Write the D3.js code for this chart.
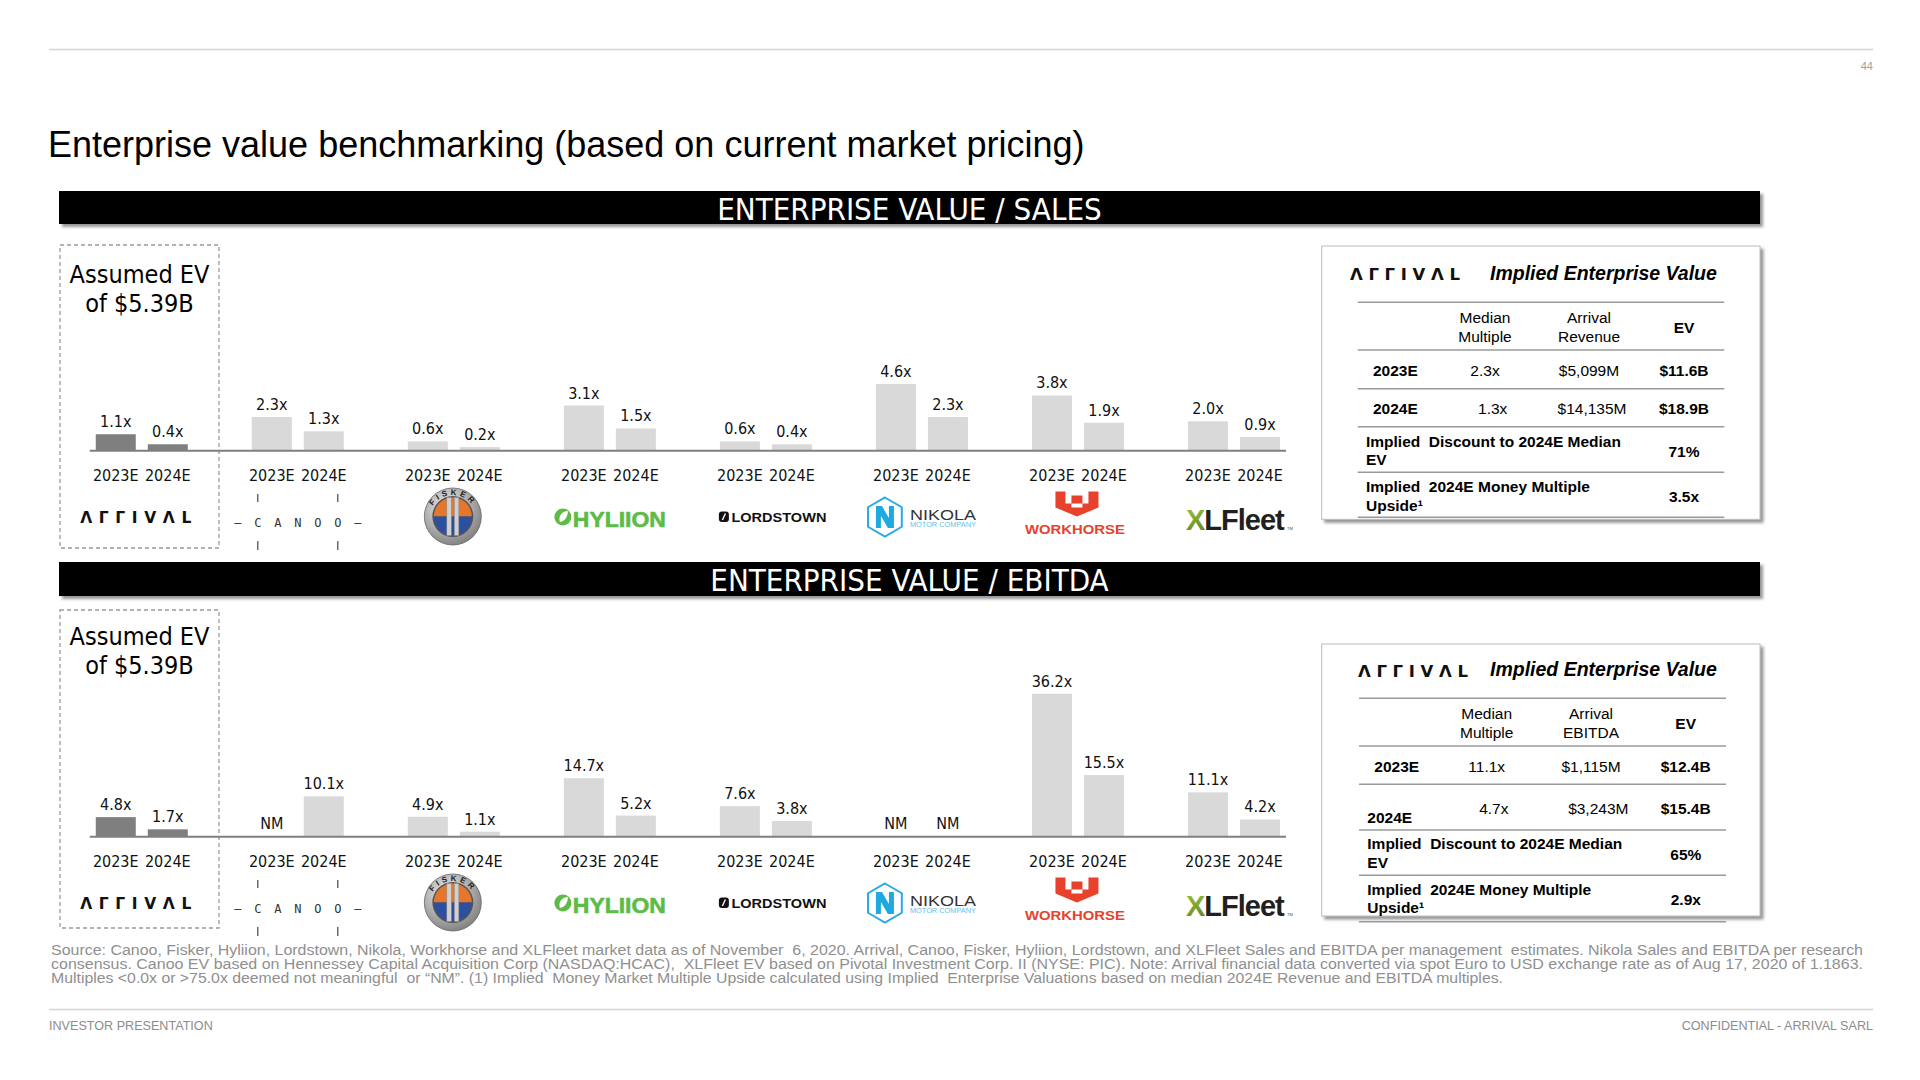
<!DOCTYPE html>
<html><head><meta charset="utf-8">
<script src="https://cdn.jsdelivr.net/npm/d3@7"></script>
<style>
html,body{margin:0;padding:0;background:#fff;}
svg{display:block;}
text{white-space:pre;}
.cond{font-family:'DejaVu Sans Condensed','DejaVu Sans',sans-serif;font-stretch:condensed;}
.arial{font-family:'Liberation Sans',Arial,sans-serif;}
</style></head>
<body>
<svg id="chart" width="1920" height="1080"></svg>
<script>
// ---------------- DATA ----------------
const companies = ["Arrival","Canoo","Fisker","Hyliion","Lordstown","Nikola","Workhorse","XLFleet"];
const years = ["2023E","2024E"];
const evSales2023 = [1.1, 2.3, 0.6, 3.1, 0.6, 4.6, 3.8, 2.0];
const evSales2024 = [0.4, 1.3, 0.2, 1.5, 0.4, 2.3, 1.9, 0.9];
const evEbitda2023 = [4.8, null, 4.9, 14.7, 7.6, null, 36.2, 11.1];
const evEbitda2024 = [1.7, 10.1, 1.1, 5.2, 3.8, null, 15.5, 4.2];
const assumedEV = ["Assumed EV", "of $5.39B"];
const panelTitles = ["ENTERPRISE VALUE / SALES", "ENTERPRISE VALUE / EBITDA"];

const salesHeader = [["Median","Multiple"],["Arrival","Revenue"],["EV"]];
const salesRows = [["2023E","2.3x","$5,099M","$11.6B"],["2024E","1.3x","$14,135M","$18.9B"]];
const salesSummary = [[["Implied  Discount to 2024E Median","EV"],"71%"],[["Implied  2024E Money Multiple","Upside\u00B9"],"3.5x"]];
const ebitdaHeader = [["Median","Multiple"],["Arrival","EBITDA"],["EV"]];
const ebitdaRows = [["2023E","11.1x","$1,115M","$12.4B"],["2024E","4.7x","$3,243M","$15.4B"]];
const ebitdaSummary = [[["Implied  Discount to 2024E Median","EV"],"65%"],[["Implied  2024E Money Multiple","Upside\u00B9"],"2.9x"]];

const pageTitle = "Enterprise value benchmarking (based on current market pricing)";
const sourceLines = [
 "Source: Canoo, Fisker, Hyliion, Lordstown, Nikola, Workhorse and XLFleet market data as of November  6, 2020. Arrival, Canoo, Fisker, Hyliion, Lordstown, and XLFleet Sales and EBITDA per management  estimates. Nikola Sales and EBITDA per research",
 "consensus. Canoo EV based on Hennessey Capital Acquisition Corp (NASDAQ:HCAC),  XLFleet EV based on Pivotal Investment Corp. II (NYSE: PIC). Note: Arrival financial data converted via spot Euro to USD exchange rate as of Aug 17, 2020 of 1.1863.",
 "Multiples <0.0x or >75.0x deemed not meaningful  or \u201CNM\u201D. (1) Implied  Money Market Multiple Upside calculated using Implied  Enterprise Valuations based on median 2024E Revenue and EBITDA multiples."
];
const footerLeft = "INVESTOR PRESENTATION";
const footerRight = "CONFIDENTIAL - ARRIVAL SARL";
const pageNumber = "44";

// ---------------- DRAW ----------------
const svg = d3.select("#chart");
const defs = svg.append("defs");
const sh = defs.append("filter").attr("id","shadow").attr("x","-5%").attr("y","-20%").attr("width","110%").attr("height","150%");
sh.append("feDropShadow").attr("dx",3).attr("dy",3).attr("stdDeviation",1.5).attr("flood-color","#7a7a7a").attr("flood-opacity",0.8);
const silver = defs.append("radialGradient").attr("id","silver").attr("cx","40%").attr("cy","35%").attr("r","70%");
silver.append("stop").attr("offset","0%").attr("stop-color","#f2f2f2");
silver.append("stop").attr("offset","100%").attr("stop-color","#7d7d7d");
const xlg = defs.append("linearGradient").attr("id","xlgrad").attr("x1","0").attr("y1","0").attr("x2","1").attr("y2","1");
xlg.append("stop").attr("offset","0%").attr("stop-color","#9ccb3b");
xlg.append("stop").attr("offset","50%").attr("stop-color","#6a8a2a");
xlg.append("stop").attr("offset","55%").attr("stop-color","#f26a21");
xlg.append("stop").attr("offset","100%").attr("stop-color","#e8412c");

// ---------- logos ----------
function arrivalLogo(g, cx, base, size, width){
  g.append("text").attr("x",cx).attr("y",base).attr("text-anchor","middle")
    .attr("font-family","'DejaVu Sans',sans-serif").attr("font-weight","bold").attr("font-size",size).attr("font-style","normal")
    .attr("textLength",width).attr("lengthAdjust","spacing").attr("fill","#111").text("\u039B\u0393\u0393I\u0056\u039BL");
}
const logos = {
  Arrival:(g,cx,ay)=>arrivalLogo(g,cx-6,ay+72.5,15.5,111),
  Canoo:(g,cx,ay)=>{
    const chars=["\u2013","C","A","N","O","O","\u2013"];
    chars.forEach((ch,k)=>{
      g.append("text").attr("x",cx+(k-3)*20).attr("y",ay+77).attr("text-anchor","middle")
        .attr("font-family","'DejaVu Sans Mono',monospace").attr("font-size",12).attr("fill","#333").text(ch);
    });
    [-40,40].forEach(dx=>{
      g.append("line").attr("x1",cx+dx).attr("x2",cx+dx).attr("y1",ay+44).attr("y2",ay+52).attr("stroke","#444").attr("stroke-width",1.2);
      g.append("line").attr("x1",cx+dx).attr("x2",cx+dx).attr("y1",ay+91).attr("y2",ay+100).attr("stroke","#444").attr("stroke-width",1.2);
    });
  },
  Fisker:(g,cx,ay)=>{
    const f = g.append("g").attr("transform",`translate(${cx-1},${ay+66.5})`);
    f.append("circle").attr("r",28.5).attr("fill","url(#silver)").attr("stroke","#666").attr("stroke-width",0.8);
    f.append("circle").attr("r",20.5).attr("fill","#555");
    f.append("path").attr("d","M-19,0 A19,19 0 0 1 19,0 Z").attr("fill","#e4772b");
    f.append("path").attr("d","M-19,0 A19,19 0 0 0 19,0 Z").attr("fill","#2d4f9f");
    f.append("rect").attr("x",-6).attr("y",-19).attr("width",4.5).attr("height",38).attr("fill","#d0d0d0").attr("stroke","#888").attr("stroke-width",0.5);
    f.append("rect").attr("x",1.5).attr("y",-19).attr("width",4.5).attr("height",38).attr("fill","#d0d0d0").attr("stroke","#888").attr("stroke-width",0.5);
    const id = "fa"+Math.round(ay);
    f.append("path").attr("id",id).attr("d","M-23.5,2 A23.5,23.5 0 0 1 23.5,2").attr("fill","none");
    f.append("text").attr("font-family","'Liberation Sans',sans-serif").attr("font-weight","bold").attr("font-size",8).attr("fill","#222")
      .append("textPath").attr("href","#"+id).attr("startOffset","50%").attr("text-anchor","middle").attr("letter-spacing",3).text("FISKER");
  },
  Hyliion:(g,cx,ay)=>{
    const hx=cx-47, hy=ay+67;
    g.append("circle").attr("cx",hx).attr("cy",hy).attr("r",8.5).attr("fill","#5dbb46");
    g.append("path").attr("d",`M${hx-3},${hy+5} C${hx-5},${hy-2} ${hx},${hy-6} ${hx+5},${hy-6} C${hx+5},${hy} ${hx+2},${hy+4} ${hx-3},${hy+5} Z`).attr("fill","#fff");
    g.append("text").attr("x",cx-37).attr("y",ay+76.5).attr("font-family","'Liberation Sans',sans-serif").attr("font-weight","bold")
      .attr("font-size",22).attr("textLength",93).attr("lengthAdjust","spacingAndGlyphs").attr("fill","#5dbb46")
      .attr("stroke","#5dbb46").attr("stroke-width",0.6).text("HYLIION");
  },
  Lordstown:(g,cx,ay)=>{
    g.append("rect").attr("x",cx-47).attr("y",ay+61.5).attr("width",10).attr("height",10.5).attr("rx",3).attr("fill","#111");
    g.append("line").attr("x1",cx-43.5).attr("x2",cx-40.5).attr("y1",ay+70).attr("y2",ay+63.5).attr("stroke","#fff").attr("stroke-width",1.4);
    g.append("text").attr("x",cx-34.5).attr("y",ay+71.5).attr("font-family","'Liberation Sans',sans-serif").attr("font-weight","bold")
      .attr("font-size",13).attr("textLength",95).attr("lengthAdjust","spacingAndGlyphs").attr("fill","#111").text("LORDSTOWN");
  },
  Nikola:(g,cx,ay)=>{
    const hx=cx-37, hy=ay+67, R=19.5;
    const pts=d3.range(6).map(k=>{const a=(-90+60*k)*Math.PI/180;return [hx+R*Math.cos(a),hy+R*Math.sin(a)];});
    g.append("polygon").attr("points",pts.map(p=>p.join(",")).join(" ")).attr("fill","#fff").attr("stroke","#29abe2").attr("stroke-width",2);
    g.append("path").attr("d",`M${hx-9},${hy+11} V${hy-11} H${hx-3} L${hx+4},${hy+1} V${hy-11} H${hx+9} V${hy+11} H${hx+3} L${hx-4},${hy-1} V${hy+11} Z`).attr("fill","#1fa9e1");
    g.append("text").attr("x",cx-12).attr("y",ay+69.5).attr("font-family","'Liberation Sans',sans-serif")
      .attr("font-size",15).attr("textLength",66).attr("lengthAdjust","spacingAndGlyphs").attr("fill","#333").text("NIKOLA");
    g.append("text").attr("x",cx-12).attr("y",ay+77).attr("font-family","'Liberation Sans',sans-serif")
      .attr("font-size",7.5).attr("textLength",66).attr("lengthAdjust","spacingAndGlyphs").attr("fill","#5fc3ec").text("MOTOR COMPANY");
  },
  Workhorse:(g,cx,ay)=>{
    const x0=cx-22.5, y0=ay+41.5;
    g.append("path").attr("d",`M${x0},${y0} h10 v12 h6 v-8 h11 v8 h6 v-12 h10 v16 l-21.5,9 l-21.5,-9 Z`).attr("fill","#e8412c");
    g.append("path").attr("d",`M${x0+16},${y0+16} h11 v-4 h-11 Z`).attr("fill","#fff");
    g.append("text").attr("x",cx-3).attr("y",ay+84).attr("text-anchor","middle").attr("font-family","'Liberation Sans',sans-serif").attr("font-weight","bold")
      .attr("font-size",13.5).attr("textLength",100).attr("lengthAdjust","spacingAndGlyphs").attr("fill","#e8412c").text("WORKHORSE");
  },
  XLFleet:(g,cx,ay)=>{
    const t=g.append("text").attr("x",cx-48).attr("y",ay+79.5).attr("font-family","'Liberation Sans',sans-serif").attr("font-weight","bold")
      .attr("font-size",29).attr("letter-spacing",-1);
    t.append("tspan").attr("fill","url(#xlgrad)").text("X");
    t.append("tspan").attr("fill","#231f20").text("LFleet");
    g.append("text").attr("x",cx+53).attr("y",ay+80).attr("font-family","'Liberation Sans',sans-serif").attr("font-size",4).attr("fill","#444").text("TM");
  }
};

// top rule, page number, title
svg.append("line").attr("x1",49).attr("x2",1873).attr("y1",49.5).attr("y2",49.5).attr("stroke","#d4d4d4").attr("stroke-width",1.5);
svg.append("text").attr("class","arial").attr("x",1873).attr("y",70).attr("text-anchor","end").attr("font-size",11).attr("fill","#a0a0a0").text(pageNumber);
svg.append("text").attr("class","arial").attr("x",48).attr("y",157).attr("font-size",36).attr("fill","#000").text(pageTitle);

// header bars
const bars = [{y:191,h:33,base:219.5},{y:562,h:34,base:591}];
bars.forEach((b,i)=>{
  svg.append("rect").attr("x",59).attr("y",b.y).attr("width",1701).attr("height",b.h).attr("fill","#000").attr("filter","url(#shadow)");
  svg.append("text").attr("class","cond").attr("x",909.5).attr("y",b.base).attr("text-anchor","middle")
    .attr("font-size",31).attr("fill","#fff").text(panelTitles[i]);
});

// scales shared
const xOuter = d3.scaleBand().domain(companies).range([63.75, 1312]);
const xInner = d3.scaleBand().domain(years).range([0, xOuter.bandwidth()]).paddingInner(12/52).paddingOuter(0.6154);
const fmt = d3.format(".1f");

const panels = [
  {axisY:450, unitPx:14.35, v23:evSales2023, v24:evSales2024, boxTop:245, boxBottom:548, aeBase:[283,312]},
  {axisY:836, unitPx:3.93, v23:evEbitda2023, v24:evEbitda2024, boxTop:610, boxBottom:928, aeBase:[645,673.5]}
];

panels.forEach((p)=>{
  const g = svg.append("g");
  const maxV = d3.max(p.v23.concat(p.v24));
  const y = d3.scaleLinear().domain([0, maxV]).range([p.axisY, p.axisY - maxV*p.unitPx]);
  const data = [];
  companies.forEach((c,i)=>{
    data.push({c, i, yr:years[0], v:p.v23[i]});
    data.push({c, i, yr:years[1], v:p.v24[i]});
  });
  // dashed assumed box
  g.append("rect").attr("x",60).attr("y",p.boxTop).attr("width",159).attr("height",p.boxBottom-p.boxTop)
    .attr("fill","none").attr("stroke","#9a9a9a").attr("stroke-width",1.3).attr("stroke-dasharray","4,3");
  assumedEV.forEach((t,k)=>{
    g.append("text").attr("class","cond").attr("x",139.5).attr("y",p.aeBase[k]).attr("text-anchor","middle")
      .attr("font-size",25).attr("fill","#000").text(t);
  });
  // bars
  g.selectAll("rect.bar").data(data.filter(d=>d.v!=null)).enter().append("rect").attr("class","bar")
    .attr("x",d=>xOuter(d.c)+xInner(d.yr)).attr("width",xInner.bandwidth())
    .attr("y",d=>y(d.v)).attr("height",d=>y(0)-y(d.v))
    .attr("fill",d=>d.i===0?"#7f7f7f":"#d9d9d9");
  // axis line
  const r = xOuter.range();
  g.append("line").attr("x1",r[0]+26).attr("x2",r[1]-26).attr("y1",p.axisY+0.8).attr("y2",p.axisY+0.8)
    .attr("stroke","#7f7f7f").attr("stroke-width",2);
  // value labels
  g.selectAll("text.val").data(data).enter().append("text").attr("class","val cond")
    .attr("x",d=>xOuter(d.c)+xInner(d.yr)+xInner.bandwidth()/2)
    .attr("y",d=>(d.v==null?y(0):y(d.v))-7)
    .attr("text-anchor","middle").attr("font-size",16).attr("fill","#111")
    .text(d=>d.v==null?"NM":fmt(d.v)+"x");
  // year labels
  g.selectAll("text.yr").data(data).enter().append("text").attr("class","yr cond")
    .attr("x",d=>xOuter(d.c)+xInner(d.yr)+xInner.bandwidth()/2)
    .attr("y",p.axisY+30.5)
    .attr("text-anchor","middle").attr("font-size",16).attr("fill","#111")
    .text(d=>d.yr);
  // logos
  companies.forEach((c)=>{
    const cx = xOuter(c)+xOuter.bandwidth()/2;
    logos[c](g, cx, p.axisY);
  });
});

// ---------- tables ----------
const tables = [
  {header:salesHeader, rows:salesRows, summary:salesSummary,
   box:[1321.7,246,438.3,273.3], logoX:1405, logoBase:279.5, titleBase:279.5,
   rules:[302.3,350,388.7,426.7,472.3,517.3], rx:[1357.7,1724.3],
   hBase:[323,341.7], evBase:333, hCols:[1485,1589,1684],
   rowBase:[[376,376],[414.3,414.3]], labelX:[1373,1373], rowCols:[[1485,1589,1684],[1492.7,1592,1684]],
   sumX:1366, sumBase:[[446.7,465],[492.3,510.7]], sumVal:[456.7,501.7], sumCol:1684},
  {header:ebitdaHeader, rows:ebitdaRows, summary:ebitdaSummary,
   box:[1321.7,644,438.3,272], logoX:1413, logoBase:676.5, titleBase:676,
   rules:[698.3,746,784.3,830,875.3,921.7], rx:[1359,1726],
   hBase:[719.3,737.7], evBase:729.3, hCols:[1486.7,1591,1685.7],
   rowBase:[[771.7,771.7],[822.7,814]], labelX:[1374.3,1367.3], rowCols:[[1486.7,1591,1685.7],[1493.8,1598.3,1685.7]],
   sumX:1367.3, sumBase:[[849.3,868.3],[895,913.3]], sumVal:[860,905], sumCol:1685.8}
];
tables.forEach(t=>{
  const g = svg.append("g").attr("font-family","'Liberation Sans',Arial,sans-serif");
  g.append("rect").attr("x",t.box[0]).attr("y",t.box[1]).attr("width",t.box[2]).attr("height",t.box[3])
    .attr("fill","#fff").attr("stroke","#bdbdbd").attr("stroke-width",1).attr("filter","url(#shadow)");
  arrivalLogo(g, t.logoX, t.logoBase, 16.5, 110);
  g.append("text").attr("x",1490).attr("y",t.titleBase).attr("font-size",19.5).attr("font-weight","bold").attr("font-style","italic")
    .attr("fill","#000").text("Implied Enterprise Value");
  t.rules.forEach(ry=>g.append("line").attr("x1",t.rx[0]).attr("x2",t.rx[1]).attr("y1",ry).attr("y2",ry).attr("stroke","#9a9a9a").attr("stroke-width",1.6));
  t.header.forEach((h,k)=>{
    if(h.length===2){
      h.forEach((line,j)=>g.append("text").attr("x",t.hCols[k]).attr("y",t.hBase[j]).attr("text-anchor","middle").attr("font-size",15.5).text(line));
    } else {
      g.append("text").attr("x",t.hCols[k]).attr("y",t.evBase).attr("text-anchor","middle").attr("font-size",15.5).attr("font-weight","bold").text(h[0]);
    }
  });
  t.rows.forEach((row,ri)=>{
    g.append("text").attr("x",t.labelX[ri]).attr("y",t.rowBase[ri][0]).attr("font-size",15.5).attr("font-weight","bold").text(row[0]);
    row.slice(1).forEach((v,k)=>{
      g.append("text").attr("x",t.rowCols[ri][k]).attr("y",t.rowBase[ri][1]).attr("text-anchor","middle")
        .attr("font-size",15.5).attr("font-weight",k===2?"bold":"normal").text(v);
    });
  });
  t.summary.forEach((s,si)=>{
    s[0].forEach((line,j)=>g.append("text").attr("x",t.sumX).attr("y",t.sumBase[si][j]).attr("font-size",15.5).attr("font-weight","bold").text(line));
    g.append("text").attr("x",t.sumCol).attr("y",t.sumVal[si]).attr("text-anchor","middle").attr("font-size",15.5).attr("font-weight","bold").text(s[1]);
  });
});

// ---------- footer ----------
const srcBase=[955,969.3,983.3], srcLen=[1812,1812,1452];
sourceLines.forEach((l,k)=>{
  svg.append("text").attr("class","arial").attr("x",51).attr("y",srcBase[k]).attr("font-size",14).attr("fill","#8f8f8f")
    .attr("textLength",srcLen[k]).attr("lengthAdjust","spacingAndGlyphs").text(l);
});
svg.append("line").attr("x1",49).attr("x2",1873).attr("y1",1009.5).attr("y2",1009.5).attr("stroke","#d4d4d4").attr("stroke-width",1.5);
svg.append("text").attr("class","arial").attr("x",49).attr("y",1030).attr("font-size",12.6).attr("fill","#8c8c8c").text(footerLeft);
svg.append("text").attr("class","arial").attr("x",1873).attr("y",1030).attr("text-anchor","end").attr("font-size",12.6).attr("fill","#8c8c8c").text(footerRight);
</script>
</body></html>
